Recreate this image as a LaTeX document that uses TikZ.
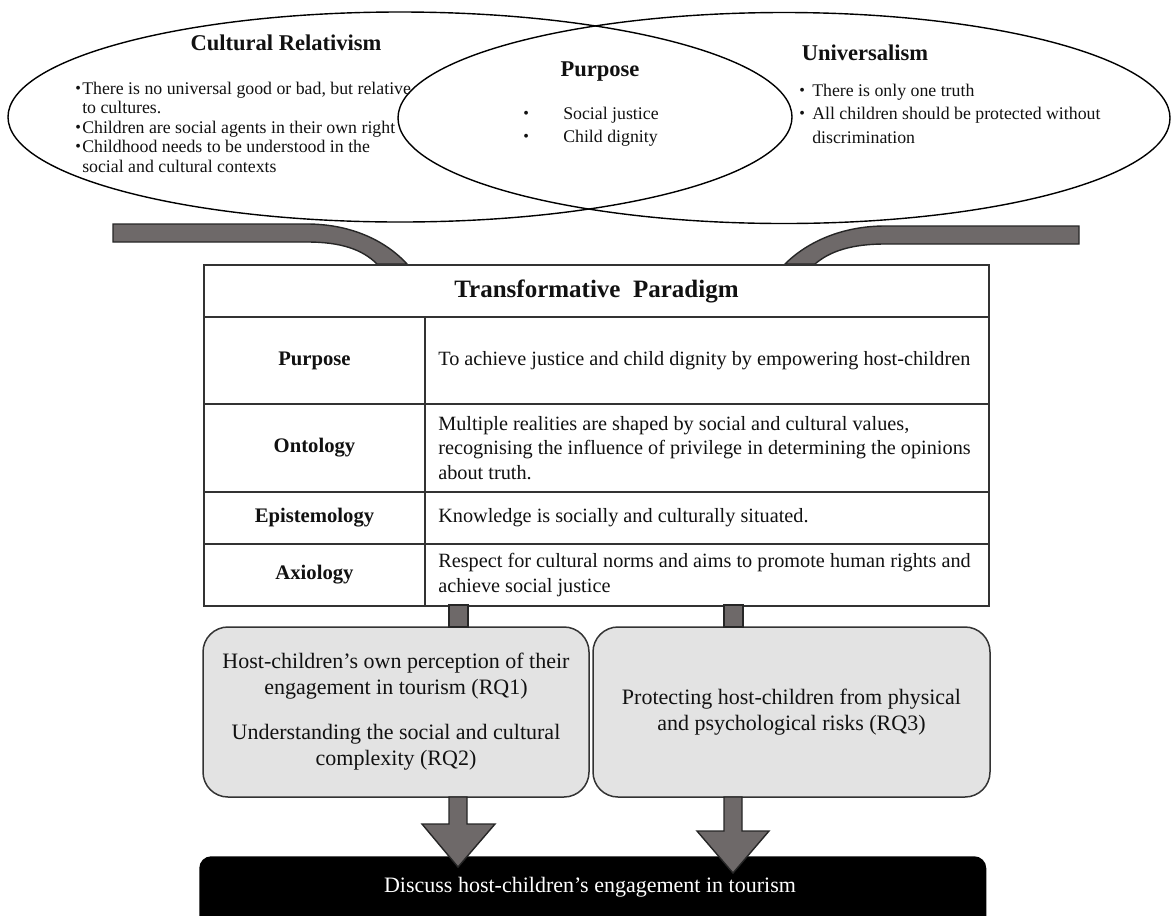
\documentclass[tikz,border=0pt]{standalone}
\usepackage{fontspec}
\usepackage{graphicx}
\setmainfont{Liberation Serif}
\usetikzlibrary{shapes.geometric}
\newlength\px \setlength\px{0.75pt}
\definecolor{bandfill}{HTML}{6E6969}
\definecolor{bandline}{HTML}{262626}
\definecolor{boxfill}{HTML}{E3E3E3}
\definecolor{tline}{HTML}{333333}
\definecolor{txt}{HTML}{111111}
\newcommand\bl[1]{\makebox[#1\px][l]{\raisebox{0.04em}{\scalebox{0.9}{\textbullet}}}}
\newcommand\blsp[1]{\hspace*{#1\px}}
\begin{document}
\begin{tikzpicture}[x=0.75pt,y=-0.75pt,
  ell/.style={ellipse, draw=black, line width=1.4\px, inner sep=0},
  ttl/.style={font=\fontsize{16.9pt}{19pt}\selectfont\bfseries, text=txt, inner sep=0},
  bullettxt/.style={font=\fontsize{13.35pt}{#1}\selectfont, text=txt, align=left, inner sep=0, anchor=west},
  band/.style={fill=bandfill, draw=bandline, line width=1.4\px, line join=miter},
  cellb/.style={draw=tline, line width=2\px, fill=white, inner sep=0, anchor=north west},
  labtxt/.style={font=\fontsize{15.5pt}{18pt}\selectfont\bfseries, text=txt},
  valtxt/.style={font=\fontsize{15.2pt}{18.4pt}\selectfont, text=txt, align=left, inner sep=0, anchor=west},
  rq/.style={draw=tline, fill=boxfill, line width=1.5\px, rounded corners=25\px, inner sep=0, align=center, text=txt, font=\fontsize{16.5pt}{19.5pt}\selectfont}
]
\useasboundingbox (0,0) rectangle (1173,915);
\clip (0,0) rectangle (1173,915);

% ellipses
\node[ell, minimum width=784\px, minimum height=210\px] (cr) at (400,117) {};
\node[ell, minimum width=772\px, minimum height=211\px] (un) at (784,118) {};

\node[ttl] (crt) at (286,43) {Cultural Relativism};
\node[bullettxt=14.6pt] (crb) at (75,127) {\bl{7}There is no universal good or bad, but relative\\\blsp{7}to cultures.\\\bl{7}Children are social agents in their own right\\\bl{7}Childhood needs to be understood in the\\\blsp{7}social and cultural contexts};

\node[ttl] (pt) at (600,72) {Purpose};
\node[bullettxt=17.25pt] (pb) at (523,126.5) {\bl{40}Social justice\\\bl{40}Child dignity};

\node[ttl] (unt) at (865,53) {Universalism};
\node[bullettxt=17.6pt] (unb) at (799,113.5) {\bl{13}There is only one truth\\\bl{13}All children should be protected without\\\blsp{13}discrimination};

% bands from ellipses to table
\draw[band] (113,224) -- (307,224) .. controls (350,224) and (385,240) .. (407,264) -- (377,264) .. controls (362,249) and (340,242) .. (307,242) -- (113,242) -- cycle;
\draw[band] (1079,226) -- (885,226) .. controls (842,226) and (807,242) .. (785,264) -- (815,264) .. controls (830,251) and (852,244) .. (885,244) -- (1079,244) -- cycle;

% table
\node[cellb, minimum width=785\px, minimum height=52\px, font=\fontsize{18.75pt}{21pt}\selectfont\bfseries, text=txt] (tp) at (203,264) {Transformative\ \ Paradigm};
\node[cellb, labtxt, minimum width=221\px, minimum height=87\px] (pl) at (203,316) {Purpose};
\node[cellb, minimum width=564\px, minimum height=87\px] (pv) at (424,316) {};
\node[cellb, labtxt, minimum width=221\px, minimum height=88\px] (ol) at (203,403) {Ontology};
\node[cellb, minimum width=564\px, minimum height=88\px] (ov) at (424,403) {};
\node[cellb, labtxt, minimum width=221\px, minimum height=52\px] (el) at (203,491) {Epistemology};
\node[cellb, minimum width=564\px, minimum height=52\px] (ev) at (424,491) {};
\node[cellb, labtxt, minimum width=221\px, minimum height=62\px] (al) at (203,543) {Axiology};
\node[cellb, minimum width=564\px, minimum height=62\px] (av) at (424,543) {};

\node[valtxt] (pvt) at ([xshift=14\px]pv.west) {To achieve justice and child dignity by empowering host-children};
\node[valtxt] (ovt) at ([xshift=14\px]ov.west) {Multiple realities are shaped by social and cultural values,\\recognising the influence of privilege in determining the opinions\\about truth.};
\node[valtxt] (evt) at ([xshift=14\px]ev.west) {Knowledge is socially and culturally situated.};
\node[valtxt] (avt) at ([xshift=14\px]av.west) {Respect for cultural norms and aims to promote human rights and\\achieve social justice};

% research question boxes
\node[rq, minimum width=386\px, minimum height=170\px] (rq12) at (396,712) {Host-children’s own perception of their\\engagement in tourism (RQ1)\\[19\px]Understanding the social and cultural\\complexity (RQ2)};
\node[rq, minimum width=397\px, minimum height=170\px] (rq3) at (791.5,712) {Protecting host-children from physical\\and psychological risks (RQ3)};

% stems table -> boxes
\draw[band] (449,605) rectangle (468,627);
\draw[band] (724,605) rectangle (743,627);

% discussion box
\node[fill=black, rounded corners=12\px, minimum width=787\px, minimum height=80\px, inner sep=0, anchor=north west] (disc) at (199,856) {};
\node[text=white, font=\fontsize{16.5pt}{19pt}\selectfont, inner sep=0] (disct) at (590,887) {Discuss host-children’s engagement in tourism};

% block arrows
\draw[band] (449,797) -- (449,824) -- (422,824) -- (458,867) -- (495,824) -- (467,824) -- (467,797) -- cycle;
\draw[band] (724,797) -- (724,831) -- (697,831) -- (733,873) -- (769,831) -- (742,831) -- (742,797) -- cycle;
\end{tikzpicture}
\end{document}
